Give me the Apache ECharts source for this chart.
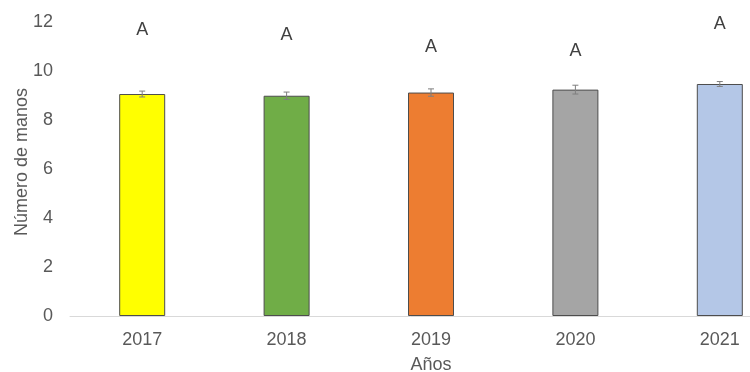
<!DOCTYPE html>
<html>
<head>
<meta charset="utf-8">
<script src="https://cdn.jsdelivr.net/npm/echarts@6/dist/echarts.min.js"></script>
<style>html,body{margin:0;padding:0;background:#fff}#c{width:750px;height:372px}</style>
</head>
<body>
<div id="c"></div>
<script>
const categories = ['2017', '2018', '2019', '2020', '2021'];
const values = [9.06, 8.99, 9.12, 9.24, 9.47];
const errors = [0.12, 0.15, 0.15, 0.18, 0.10];
const letters = ['A', 'A', 'A', 'A', 'A'];
const letterY = [11.67, 11.47, 10.98, 10.82, 11.92];
const barColors = ['#FFFF00', '#70AD47', '#ED7D31', '#A5A5A5', '#B4C7E7'];
const yAxisTitle = 'Número de manos';
const xAxisTitle = 'Años';

const chart = echarts.init(document.getElementById('c'));
const font = 'Liberation Sans, Arial, sans-serif';
chart.setOption({
  animation: false,
  grid: { left: 70, right: -42, top: 22, bottom: 56, containLabel: false, outerBoundsMode: 'none' },
  graphic: [{
    type: 'text', x: 22, y: 162, rotation: Math.PI / 2,
    style: { text: yAxisTitle, fill: '#595959', font: '18px ' + font, align: 'center', verticalAlign: 'middle' }
  }],
  xAxis: {
    type: 'category', data: categories,
    name: xAxisTitle, nameLocation: 'middle', nameGap: 40,
    nameTextStyle: { color: '#595959', fontSize: 18, fontFamily: font },
    axisLine: { lineStyle: { color: '#d9d9d9', width: 1 } },
    axisTick: { show: false },
    axisLabel: { color: '#595959', fontSize: 18, fontFamily: font, margin: 15 }
  },
  yAxis: {
    type: 'value', min: 0, max: 12, interval: 2,
    axisLine: { show: false }, axisTick: { show: false }, splitLine: { show: false },
    axisLabel: { color: '#595959', fontSize: 18, fontFamily: font, margin: 17 }
  },
  series: [
    {
      type: 'bar', barWidth: 46,
      data: values.map((v, i) => ({ value: v, itemStyle: { color: barColors[i], borderColor: '#4d4d4d', borderWidth: 1 } }))
    },
    {
      type: 'custom',
      data: values.map((v, i) => [i, v - errors[i], v + errors[i]]),
      renderItem: function (params, api) {
        const lo = api.coord([api.value(0), api.value(1)]);
        const hi = api.coord([api.value(0), api.value(2)]);
        const w = 3;
        const st = { stroke: '#7f7f7f', lineWidth: 1 };
        return { type: 'group', children: [
          { type: 'line', shape: { x1: hi[0], y1: hi[1], x2: lo[0], y2: lo[1] }, style: st },
          { type: 'line', shape: { x1: hi[0] - w, y1: hi[1], x2: hi[0] + w, y2: hi[1] }, style: st },
          { type: 'line', shape: { x1: lo[0] - w, y1: lo[1], x2: lo[0] + w, y2: lo[1] }, style: st }
        ]};
      },
      z: 5
    },
    {
      type: 'custom',
      data: letterY.map((y, i) => [i, y, letters[i]]),
      renderItem: function (params, api) {
        const p = api.coord([api.value(0), api.value(1)]);
        return { type: 'text', style: { x: p[0], y: p[1], text: letters[params.dataIndex], fill: '#404040', font: '18px ' + font, align: 'center', verticalAlign: 'middle' } };
      }
    }
  ]
});
</script>
</body>
</html>
